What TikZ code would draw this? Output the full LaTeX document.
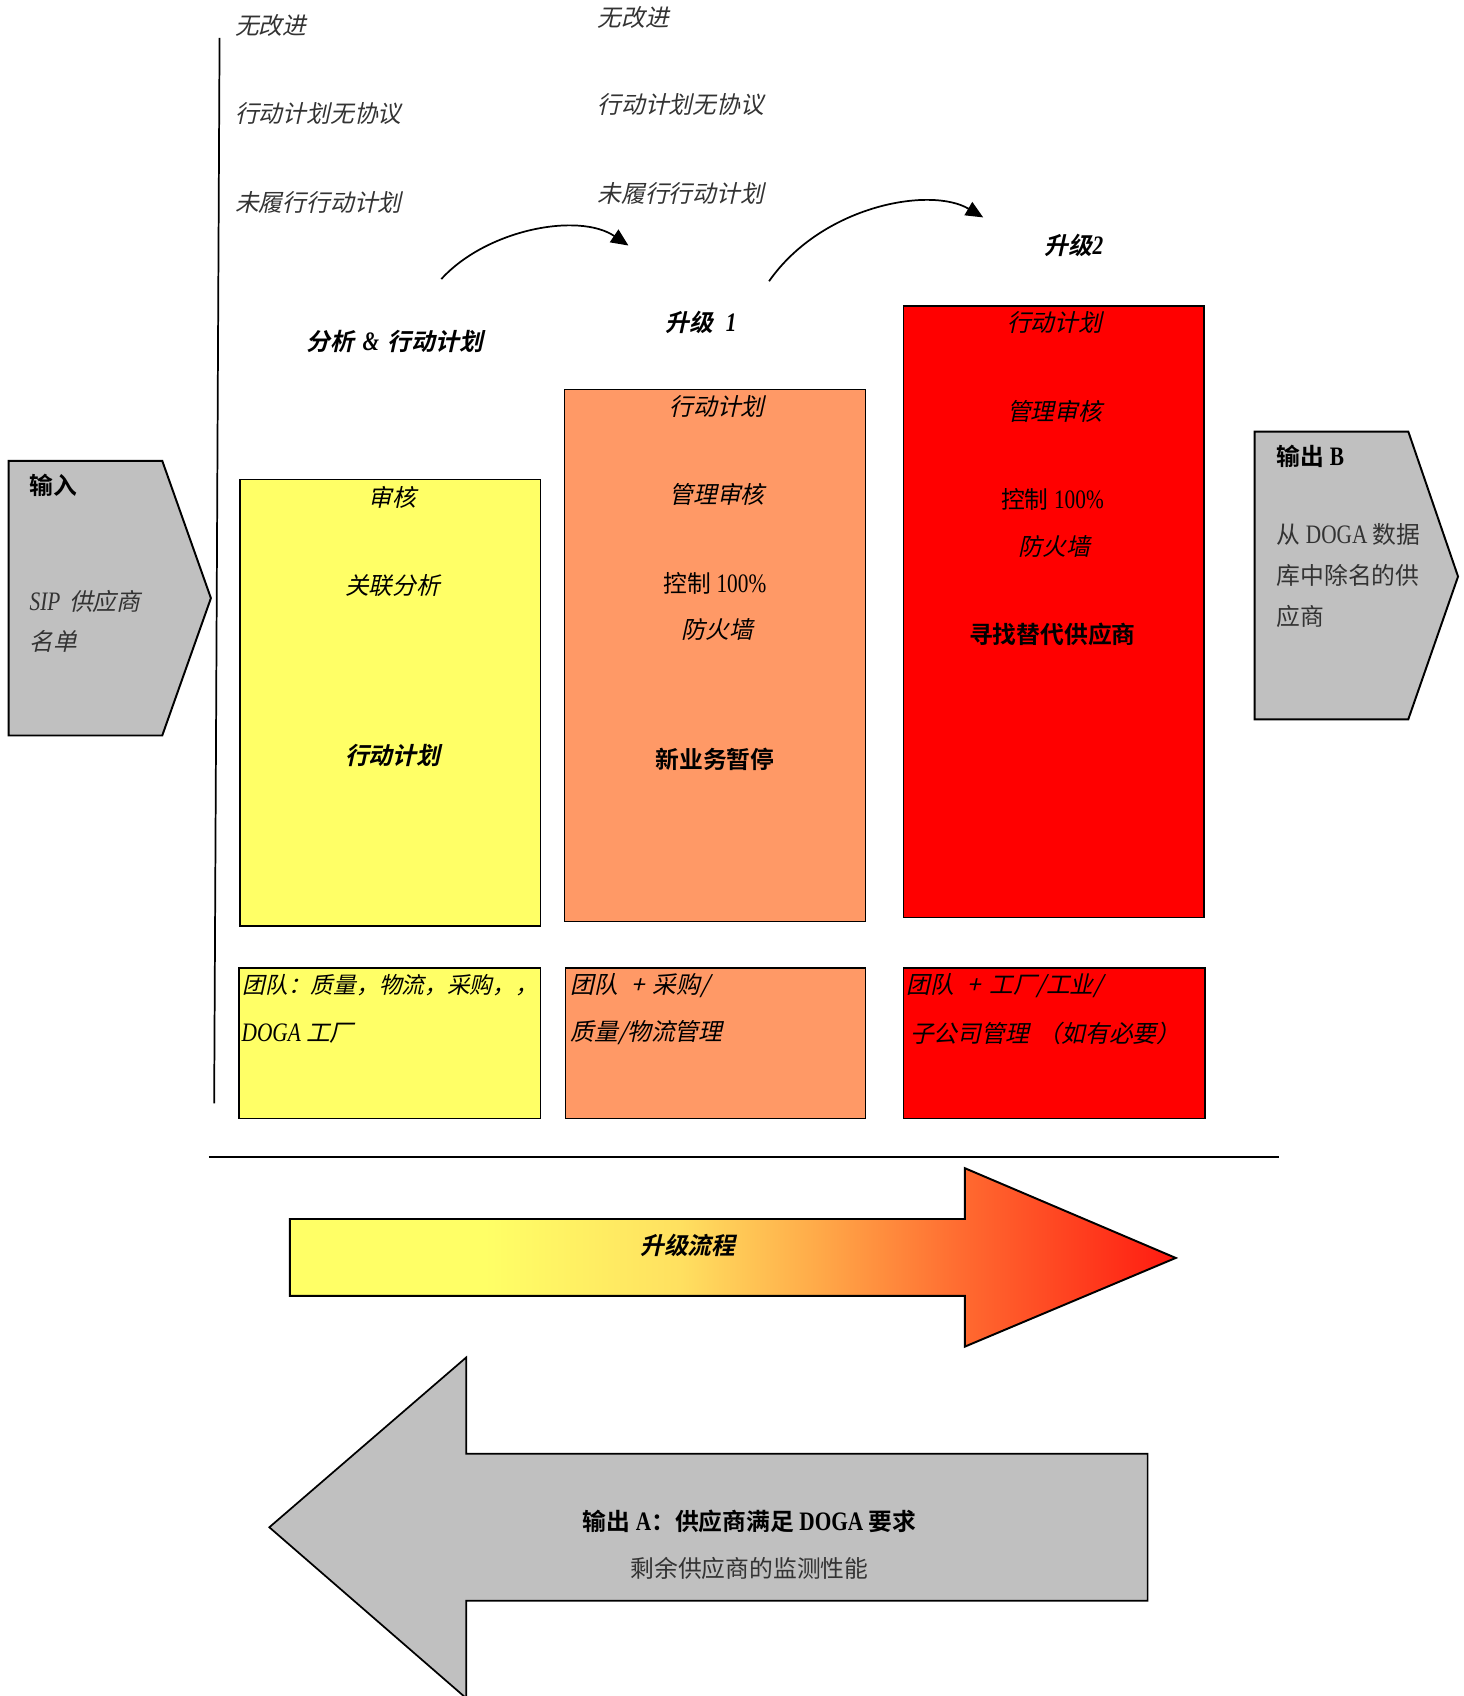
\documentclass[tikz,border=0pt]{standalone}
\usepackage{fontspec}
\setmainfont{Noto Sans CJK SC}[ItalicFont={Noto Sans CJK SC},ItalicFeatures={FakeSlant=0.22},BoldFont={Noto Sans CJK SC Bold},BoldItalicFont={Noto Sans CJK SC Bold},BoldItalicFeatures={FakeSlant=0.22}]
\newfontfamily\ser{Liberation Serif}[Scale=1.12,FakeStretch=0.8]
\usetikzlibrary{arrows.meta}
\definecolor{yel}{HTML}{FFFF66}
\definecolor{ora}{HTML}{FF9966}
\definecolor{rd}{HTML}{FF0000}
\definecolor{gry}{HTML}{C0C0C0}
\definecolor{txg}{HTML}{333333}
\definecolor{g1}{HTML}{FFE060}
\definecolor{g2}{HTML}{FFA848}
\definecolor{g3}{HTML}{FF6A30}
\definecolor{g4}{HTML}{FF1A10}
\pgfdeclarehorizontalshading{escal}{100bp}{color(0bp)=(yel); color(25bp)=(yel); color(36bp)=(yel); color(47bp)=(g1); color(55bp)=(g2); color(63bp)=(g3); color(75bp)=(g4); color(100bp)=(g4)}
\tikzset{
  every node/.style={inner sep=0pt, font=\fontsize{11pt}{13pt}\selectfont},
  it/.style={font=\fontsize{11pt}{13pt}\selectfont\itshape},
  bt/.style={font=\fontsize{11pt}{13pt}\selectfont\bfseries},
  bit/.style={font=\fontsize{11pt}{13pt}\selectfont\bfseries\itshape},
  gt/.style={it, text=txg},
  boxline/.style={draw=black, line width=0.6pt},
  shp/.style={draw=black, line width=0.9pt, fill=gry},
  arc/.style={line width=0.8pt, -{Triangle[length=8pt,width=7pt]}},
}
\begin{document}
\begin{tikzpicture}[x=0.5pt,y=-0.5pt]
\useasboundingbox (0,0) rectangle (1353,1568);
% vertical line
\coordinate (vtop) at (203,35);
\coordinate (vbot) at (198,1020);
\draw[line width=0.8pt] (vtop) -- (vbot);
% left text column
\node[gt,anchor=west] (a1) at (217,24) {无改进};
\node[gt,anchor=west] (a2) at (217,105) {行动计划无协议};
\node[gt,anchor=west] (a3) at (217,187) {未履行行动计划};
\node[gt,anchor=west] (b1) at (552,16) {无改进};
\node[gt,anchor=west] (b2) at (552,97) {行动计划无协议};
\node[gt,anchor=west] (b3) at (552,179) {未履行行动计划};
% arcs
\coordinate (c1s) at (408,258);
\coordinate (c1e) at (581,227);
\coordinate (c2s) at (711,260);
\coordinate (c2e) at (909,201);
\draw[arc] (c1s) .. controls (450,212) and (535,196) .. (c1e);
\draw[arc] (c2s) .. controls (760,190) and (860,172) .. (c2e);
% stage titles
\node[bit] (t1) at (365,316) {分析\hspace{4pt}{\ser\&}\hspace{4pt}行动计划};
\node[bit] (t2) at (648,298) {升级\hspace{6pt}{\ser 1}};
\node[bit] (t3) at (993,227) {升级{\ser 2}};
% main boxes
\path[boxline, fill=yel] (222,443) rectangle (500,856);
\path[boxline, fill=ora] (522,360) rectangle (800,852);
\path[boxline, fill=rd] (835,283) rectangle (1113,848);
\node[it] (y1) at (363,460) {审核};
\node[it] (y2) at (363,541) {关联分析};
\node[bit] (y3) at (363,698) {行动计划};
\node[it] (o1) at (663,376) {行动计划};
\node[it] (o2) at (663,457) {管理审核};
\node (o3) at (661,539) {控制 {\ser 100\%}};
\node[it] (o4) at (663,582) {防火墙};
\node[bt] (o5) at (661,702) {新业务暂停};
\node[it] (r1) at (975,298) {行动计划};
\node[it] (r2) at (975,380) {管理审核};
\node (r3) at (973,462) {控制 {\ser 100\%}};
\node[it] (r4) at (975,505) {防火墙};
\node[bt] (r5) at (973,587) {寻找替代供应商};
% team boxes
\path[boxline, fill=yel] (221,895) rectangle (500,1034);
\path[boxline, fill=ora] (523,895) rectangle (800,1034);
\path[boxline, fill=rd] (835,895) rectangle (1114,1034);
\node[it,anchor=west,font=\fontsize{10.5pt}{13pt}\selectfont\itshape] (ty1) at (224,911) {团队：质量，物流，采购，，};
\node[it,anchor=west] (ty2) at (223,955) {{\ser\itshape DOGA} 工厂};
\node[it,anchor=west] (to1) at (527,911) {团队\hspace{6pt}+\hspace{4pt}采购/};
\node[it,anchor=west] (to2) at (527,955) {质量/物流管理};
\node[it,anchor=west] (tr1) at (838,911) {团队\hspace{6pt}+\hspace{4pt}工厂/工业/};
\node[it,anchor=west] (tr2) at (841,955) {子公司管理\hspace{4pt}（如有必要）};
% input shape
\draw[shp] (8,426) -- (150,426) -- (195,553) -- (150,680) -- (8,680) -- cycle;
\node[bt,anchor=west] (in1) at (27,449) {输入};
\node[gt,anchor=west] (in2) at (27,556) {{\ser\itshape SIP}\hspace{4pt}供应商};
\node[gt,anchor=west] (in3) at (27,593) {名单};
% output B shape
\draw[shp] (1160,399) -- (1302,399) -- (1348,533) -- (1302,665) -- (1160,665) -- cycle;
\node[bt,anchor=west] (ob1) at (1180,422) {输出 {\ser\bfseries B}};
\node[anchor=west,text=txg] (ob2) at (1180,494) {从 {\ser DOGA} 数据};
\node[anchor=west,text=txg] (ob3) at (1180,532) {库中除名的供};
\node[anchor=west,text=txg] (ob4) at (1180,570) {应商};
% horizontal line
\coordinate (hl) at (193,1070);
\coordinate (hr) at (1182,1070);
\draw[line width=0.8pt] (hl) -- (hr);
% gradient arrow
\draw[line width=0.9pt, shading=escal] (268,1127) -- (892,1127) -- (892,1080) -- (1087,1163) -- (892,1245) -- (892,1198) -- (268,1198) -- cycle;
\node[bit] (esc) at (636,1151) {升级流程};
% gray arrow
\draw[shp, line width=0.8pt] (249,1412) -- (431,1255) -- (431,1344) -- (1061,1344) -- (1061,1480) -- (431,1480) -- (431,1570) -- cycle;
\node[bt] (oa1) at (693,1407) {输出 {\ser\bfseries A}：供应商满足 {\ser\bfseries DOGA} 要求};
\node[text=txg] (oa2) at (693,1450) {剩余供应商的监测性能};
\end{tikzpicture}
\end{document}
